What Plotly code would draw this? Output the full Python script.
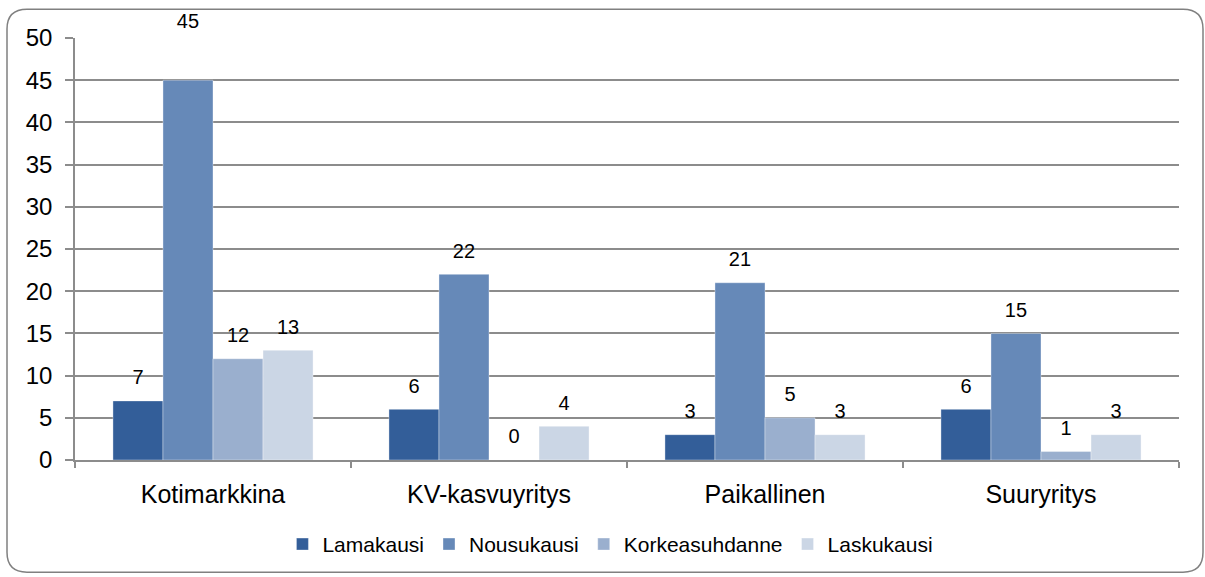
import plotly.graph_objects as go

categories = ["Kotimarkkina", "KV-kasvuyritys", "Paikallinen", "Suuryritys"]
series_names = ["Lamakausi", "Nousukausi", "Korkeasuhdanne", "Laskukausi"]
lamakausi = [7, 6, 3, 6]
nousukausi = [45, 22, 21, 15]
korkeasuhdanne = [12, 0, 5, 1]
laskukausi = [13, 4, 3, 3]
y_ticks = [0, 5, 10, 15, 20, 25, 30, 35, 40, 45, 50]

series_values = [lamakausi, nousukausi, korkeasuhdanne, laskukausi]
colors = ["#335E99", "#6689B8", "#9AAFCE", "#CBD6E5"]

# extra spacer lines lifting a label (the reference shows the top label raised)
label_lift = {("Nousukausi", "Kotimarkkina"): 3}

FONT = "Liberation Sans, Arial, sans-serif"
W, H = 1205, 577
ML, MR, MT, MB = 75, 26, 38, 114


def label(name, cat, v):
    extra = label_lift.get((name, cat), 0)
    return f"<span style='font-size:20px'>{v}</span>" + "<br>&nbsp;" * (1 + extra)


fig = go.Figure()
for name, vals, col in zip(series_names, series_values, colors):
    fig.add_trace(go.Bar(
        name=name, x=categories, y=vals,
        marker=dict(color=col, line=dict(color="rgba(255,255,255,0.6)", width=0.6)),
        text=[label(name, c, v) for c, v in zip(categories, vals)],
        textposition="outside",
        constraintext="none",
        textfont=dict(family=FONT, size=9, color="#000000"),
        cliponaxis=False,
        hoverinfo="skip",
    ))

# rounded border in paper coordinates
pw, ph = W - ML - MR, H - MT - MB
def px(x):
    return (x - ML) / pw
def py(y):
    return (H - MB - y) / ph
L, R, T, B, r = 7, 1203, 9, 576, 20
path = (
    f"M{px(L + r)},{py(T)} L{px(R - r)},{py(T)} Q{px(R)},{py(T)} {px(R)},{py(T + r)} "
    f"L{px(R)},{py(B - r)} Q{px(R)},{py(B)} {px(R - r)},{py(B)} "
    f"L{px(L + r)},{py(B)} Q{px(L)},{py(B)} {px(L)},{py(B - r)} "
    f"L{px(L)},{py(T + r)} Q{px(L)},{py(T)} {px(L + r)},{py(T)} Z"
)

fig.update_layout(
    width=W, height=H,
    margin=dict(l=ML, r=MR, t=MT, b=MB),
    paper_bgcolor="white", plot_bgcolor="white",
    barmode="group", bargap=0.275, bargroupgap=0,
    font=dict(family=FONT, color="#000000"),
    showlegend=True,
    legend=dict(orientation="h", x=0.485, xanchor="center", y=-0.2, yanchor="middle",
                font=dict(family=FONT, size=21, color="#000000"),
                itemwidth=30, tracegroupgap=0),
    shapes=[dict(type="path", xref="paper", yref="paper", path=path,
                 line=dict(color="#808080", width=1.5), layer="above")],
)
fig.update_xaxes(
    type="category", showgrid=False, showline=True, linecolor="#8c8c8c", linewidth=1.5,
    ticks="outside", tickson="boundaries", ticklen=6, tickcolor="#8c8c8c", tickwidth=1.5,
    tickfont=dict(family=FONT, size=25, color="#000000"), ticklabelstandoff=11,
)
fig.update_yaxes(
    range=[0, 50], tickvals=y_ticks, showgrid=True, gridcolor="#8c8c8c", gridwidth=1.5,
    showline=True, linecolor="#8c8c8c", linewidth=1.5, zeroline=False,
    ticks="outside", ticklen=8, tickcolor="#8c8c8c", tickwidth=1.5,
    tickfont=dict(family=FONT, size=24, color="#000000"), ticklabelstandoff=8,
)

fig.write_html("out.html", post_script="document.body.style.margin='0';",
               config={"displayModeBar": False})
